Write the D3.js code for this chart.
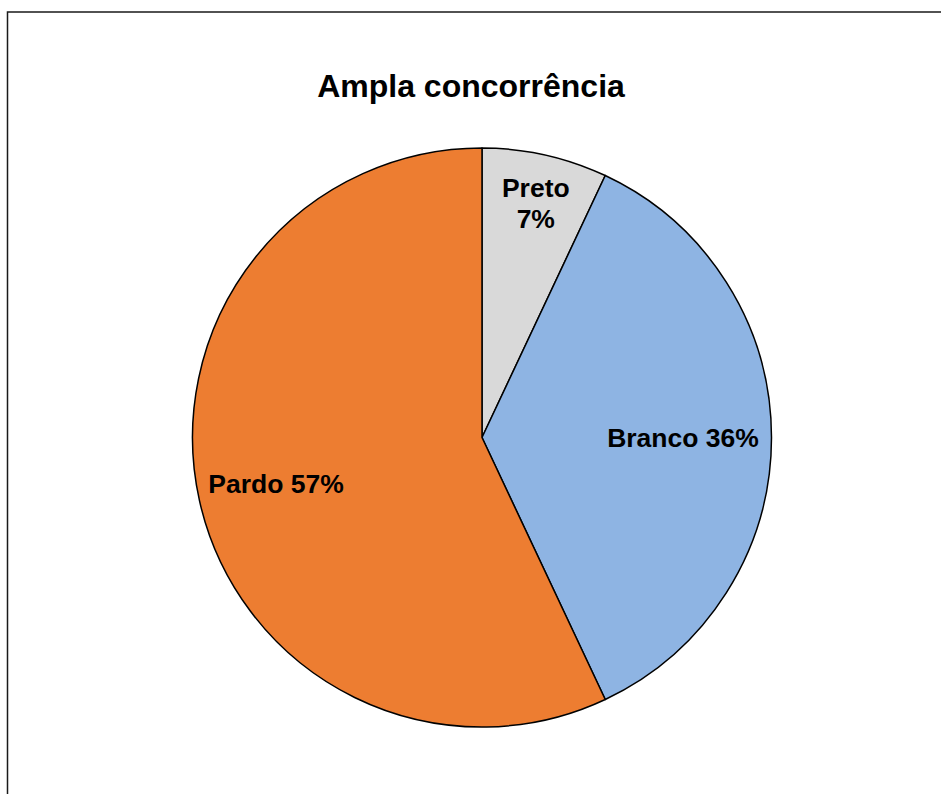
<!DOCTYPE html>
<html>
<head>
<meta charset="utf-8">
<script src="https://cdn.jsdelivr.net/npm/d3@7"></script>
<style>
  html, body { margin: 0; padding: 0; background: #fff; }
  svg { display: block; }
</style>
</head>
<body>
<svg id="chart" width="941" height="794"></svg>
<script>
// Data
const categories = ["Preto", "Branco", "Pardo"];
const values = [7, 36, 57];
const colors = ["#D9D9D9", "#8EB4E3", "#ED7D31"];
const title = "Ampla concorrência";

const width = 941, height = 794;
const cx = 482, cy = 437.5, radius = 289.5;

const svg = d3.select("#chart");

// Chart frame (only the top and left edges fall inside the view)
svg.append("rect")
  .attr("x", 7.5).attr("y", 12)
  .attr("width", 1000).attr("height", 1000)
  .attr("fill", "none")
  .attr("stroke", "#1a1a1a")
  .attr("stroke-width", 1.5);

svg.append("text")
  .attr("x", 471).attr("y", 96.5)
  .attr("text-anchor", "middle")
  .attr("font-family", "Liberation Sans, Arial, sans-serif")
  .attr("font-weight", "bold")
  .attr("font-size", 32)
  .attr("fill", "#000")
  .text(title);

const slices = categories.map((c, i) => ({ name: c, value: values[i], color: colors[i] }));

const pie = d3.pie().value(d => d.value).sort(null);
const arcs = pie(slices);

const arc = d3.arc().innerRadius(0).outerRadius(radius);

const g = svg.append("g").attr("transform", `translate(${cx},${cy})`);

g.selectAll("path.slice")
  .data(arcs)
  .join("path")
  .attr("class", "slice")
  .attr("d", arc)
  .attr("fill", d => d.data.color)
  .attr("stroke", "#000")
  .attr("stroke-width", 1.5)
  .attr("stroke-linejoin", "round");

// Data labels, placed along each slice's mid-angle
const labelRadius = { "Preto": 242, "Branco": 201, "Pardo": 211 };
const fontSize = 26.5;

arcs.forEach(d => {
  const r = labelRadius[d.data.name];
  const [lx, ly] = d3.arc().innerRadius(r).outerRadius(r).centroid(d);
  const t = g.append("text")
    .attr("text-anchor", "middle")
    .attr("font-family", "Liberation Sans, Arial, sans-serif")
    .attr("font-weight", "bold")
    .attr("font-size", fontSize)
    .attr("fill", "#000");
  const pct = d.data.value + "%";
  if (d.data.name === "Preto") {
    t.append("tspan").attr("x", lx + 1).attr("y", ly - 4.5).text(d.data.name);
    t.append("tspan").attr("x", lx + 1).attr("y", ly + 26.5).text(pct);
  } else {
    t.attr("x", lx).attr("y", ly + 9.5).text(d.data.name + " " + pct);
  }
});
</script>
</body>
</html>
